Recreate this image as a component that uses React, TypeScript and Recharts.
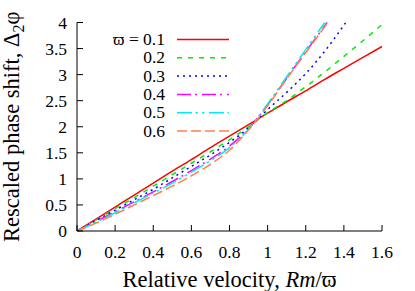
import { LineChart, Line, XAxis, YAxis, Legend } from 'recharts';

// relative velocity samples
const velocity = [0, 0.1, 0.2, 0.3, 0.4, 0.5, 0.6, 0.7, 0.8, 0.9, 1.0, 1.1, 1.2, 1.3, 1.4, 1.5, 1.6];

const phase01 = [0, 0.23, 0.46, 0.69, 0.92, 1.15, 1.37, 1.6, 1.82, 2.04, 2.26, 2.48, 2.69, 2.91, 3.12, 3.33, 3.54];
const phase02 = [0, 0.21, 0.43, 0.64, 0.86, 1.08, 1.3, 1.52, 1.75, 2.0, 2.27, 2.5, 2.77, 3.05, 3.35, 3.65, 3.96];
const phase03 = [0, 0.2, 0.4, 0.6, 0.8, 1.02, 1.24, 1.46, 1.7, 1.98, 2.33, 2.66, 3.02, 3.45, 3.95, 4.5, null];
const phase04 = [0, 0.18, 0.37, 0.56, 0.75, 0.95, 1.16, 1.38, 1.63, 1.96, 2.42, 2.93, 3.44, 3.94, 4.45, null, null];
const phase05 = [0, 0.17, 0.35, 0.54, 0.73, 0.92, 1.13, 1.35, 1.6, 1.95, 2.44, 2.96, 3.48, 4.0, 4.5, null, null];
const phase06 = [0, 0.15, 0.32, 0.5, 0.68, 0.86, 1.06, 1.28, 1.55, 1.94, 2.4, 2.92, 3.42, 3.92, 4.4, null, null];

const seriesLabels = ['ϖ = 0.1', '0.2', '0.3', '0.4', '0.5', '0.6'];
const xTicks = [0, 0.2, 0.4, 0.6, 0.8, 1, 1.2, 1.4, 1.6];
const yTicks = [0, 0.5, 1, 1.5, 2, 2.5, 3, 3.5, 4];

const allSeries = [phase01, phase02, phase03, phase04, phase05, phase06];
const styles = [
  { color: '#ff0000', dash: undefined },
  { color: '#00ee00', dash: '5 6' },
  { color: '#0000ff', dash: '2 4' },
  { color: '#ff00ff', dash: '14 4 2 5' },
  { color: '#00eeee', dash: '15 3.5 2.5 4 2.5 4.5' },
  { color: '#ff7f50', dash: '10 4' },
];

const data = velocity.map((x, i) => {
  const row: Record<string, number | null> = { x };
  allSeries.forEach((s, k) => {
    row['s' + k] = s[i];
  });
  return row;
});

const serif = '"Liberation Serif", "Times New Roman", serif';

function LegendBox() {
  return (
    <svg width={240} height={145}>
      {seriesLabels.map((lab, i) => {
        const cy = 39.5 + i * 18.3;
        return (
          <g key={lab}>
            <text x={165} y={cy + 5.5} textAnchor="end" fontFamily={serif} fontSize={17.5} fill="#000">
              {lab}
            </text>
            <line x1={177} x2={229} y1={cy} y2={cy} stroke={styles[i].color} strokeWidth={1.5} strokeDasharray={styles[i].dash} />
          </g>
        );
      })}
    </svg>
  );
}

function XTick(props: any) {
  const { x, y, payload } = props;
  return (
    <text x={x} y={y + 12} textAnchor="middle" fontFamily={serif} fontSize={17.5} fill="#000">
      {String(payload.value)}
    </text>
  );
}

function YTick(props: any) {
  const { x, y, payload } = props;
  return (
    <text x={x} y={y + 6} textAnchor="end" fontFamily={serif} fontSize={17.5} fill="#000">
      {String(payload.value)}
    </text>
  );
}

function XTitle(props: any) {
  const vb = props.viewBox;
  return (
    <text x={vb.x + vb.width / 2} y={287} textAnchor="middle" fontFamily={serif} fontSize={22.5} fill="#000">
      Relative velocity, <tspan fontStyle="italic">Rm</tspan>/ϖ
    </text>
  );
}

function YTitle(props: any) {
  const vb = props.viewBox;
  const cy = vb.y + vb.height / 2;
  return (
    <text x={19} y={cy} transform={`rotate(-90, 19, ${cy})`} textAnchor="middle" fontFamily={serif} fontSize={22.5} fill="#000">
      Rescaled phase shift, Δ<tspan dy={5} fontSize={16}>2</tspan><tspan dy={-5}>φ</tspan>
    </text>
  );
}

export default function App() {
  return (
    <div style={{ position: 'absolute', left: 0, top: 0, background: '#fff' }}>
      <LineChart width={415} height={291} data={data} margin={{ top: 22.5, right: 33, bottom: 30, left: 0 }}>
        <XAxis
          xAxisId="bottom"
          dataKey="x"
          type="number"
          domain={[0, 1.6]}
          ticks={xTicks}
          height={30}
          tickSize={-6}
          tickMargin={21}
          stroke="#000"
          tick={XTick}
          label={XTitle}
        />
        <XAxis xAxisId="top" orientation="top" type="number" domain={[0, 1.6]} ticks={xTicks} height={0} tickSize={-6} tick={false} stroke="#000" />
        <YAxis
          yAxisId="left"
          type="number"
          domain={[0, 4]}
          ticks={yTicks}
          width={77}
          tickSize={-6}
          tickMargin={16}
          allowDataOverflow
          stroke="#000"
          tick={YTick}
          label={YTitle}
        />
        <YAxis yAxisId="right" orientation="right" type="number" domain={[0, 4]} ticks={yTicks} width={0} tickSize={-6} tick={false} stroke="#000" />
        <Legend layout="vertical" verticalAlign="middle" align="center" wrapperStyle={{ left: 0, top: 0 }} content={() => <LegendBox />} />
        {allSeries.map((_, k) => (
          <Line
            key={k}
            xAxisId="bottom"
            yAxisId="left"
            dataKey={'s' + k}
            name={seriesLabels[k]}
            type="monotone"
            stroke={styles[k].color}
            strokeWidth={1.5}
            strokeDasharray={styles[k].dash}
            dot={false}
            isAnimationActive={false}
          />
        ))}
      </LineChart>
    </div>
  );
}
